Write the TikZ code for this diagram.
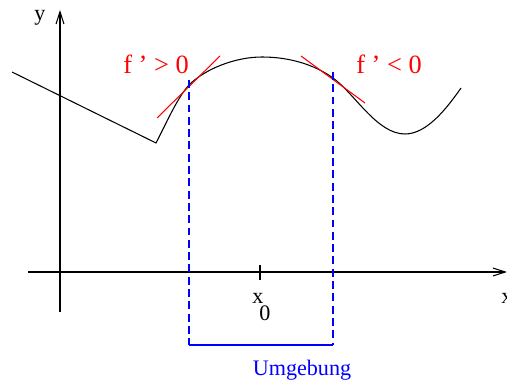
\documentclass[tikz,border=0pt]{standalone}
\usepackage{fontspec}
\setmainfont{Liberation Serif}
\usetikzlibrary{arrows.meta}

\begin{document}
\begin{tikzpicture}[
    x=0.02cm, y=-0.02cm,
    >={Straight Barb[length=7pt,width=4.5pt]},
    axis/.style={draw, line width=0.6pt},
    fcurve/.style={draw, line width=0.6pt},
    tangent/.style={draw=red, line width=0.6pt},
    bound/.style={blue, line width=0.6pt},
    lbl/.style={font=\fontsize{12.6}{15}\selectfont, inner sep=0pt},
    big/.style={font=\fontsize{15}{18}\selectfont, inner sep=0pt},
]
\useasboundingbox (0,0) rectangle (507,384);

% Axes
\coordinate (origin) at (60,272);
\draw[axis, ->] (28,272) -- (507,272);
\draw[axis, ->] (60,312) -- (60,10);
\node[lbl] (ylabel) at (40,18) {y};
\node[lbl] (xlabel) at (507,298) {x};

% Tick at x0
\draw[axis] (260,265) -- (260,280);
\node[lbl] (xnull) at (258,298) {x};
\node[lbl] (xsub) at (265,313) {0};

% Function
\coordinate (p1) at (189,85);
\coordinate (p2) at (333,78);
\draw[fcurve] (12,72) -- (156,143)
    .. controls (165,126) and (177,98) .. (p1)
    .. controls (205,69) and (235,57) .. (262,57)
    .. controls (290,57) and (315,65) .. (p2)
    .. controls (355,94) and (377,134) .. (405,134)
    .. controls (427,134) and (447,108) .. (461,88);

% Tangents
\draw[tangent] (157,118) -- (220,56);
\draw[tangent] (301,56) -- (365,103);
\node[big, text=red] (fpos) at (156,64) {f ' > 0};
\node[big, text=red] (fneg) at (389,64) {f ' < 0};

% Neighbourhood
\draw[bound, dash pattern=on 4.5pt off 2.5pt] (189,80) -- (189,345);
\draw[bound, dash pattern=on 4.5pt off 2.5pt] (333,72) -- (333,345);
\draw[bound] (189,345) -- (333,345);
\node[lbl, text=blue] (umg) at (302,370) {Umgebung};

\end{tikzpicture}
\end{document}
